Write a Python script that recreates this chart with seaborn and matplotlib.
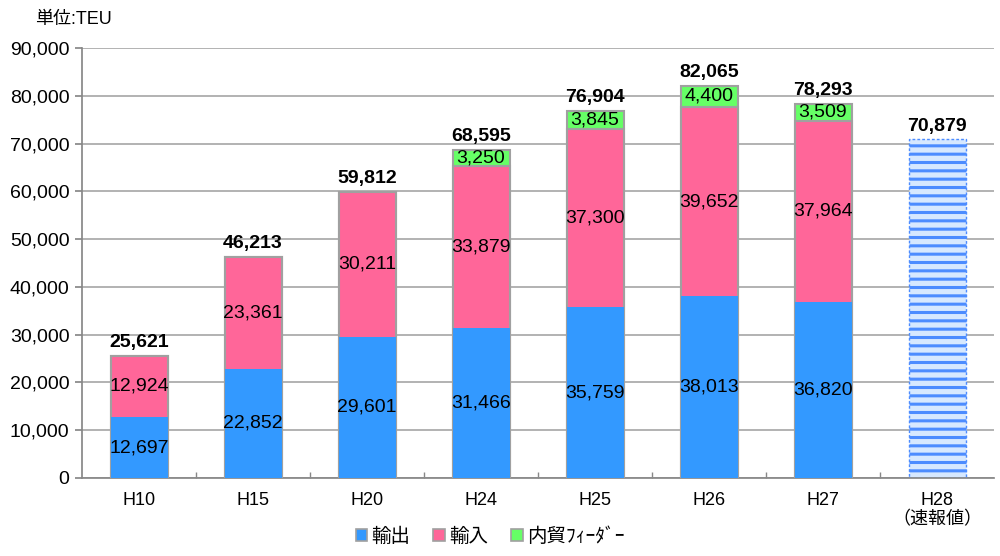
import numpy as np
import pandas as pd
import matplotlib
matplotlib.use("Agg")
import matplotlib.pyplot as plt
import seaborn as sns

years = ["H10", "H15", "H20", "H24", "H25", "H26", "H27", "H28"]
tick_labels = ["H10", "H15", "H20", "H24", "H25", "H26", "H27", "H28\n（速報値）"]
export = [12697, 22852, 29601, 31466, 35759, 38013, 36820, np.nan]
imports = [12924, 23361, 30211, 33879, 37300, 39652, 37964, np.nan]
feeder = [np.nan, np.nan, np.nan, 3250, 3845, 4400, 3509, np.nan]
totals = [25621, 46213, 59812, 68595, 76904, 82065, 78293, 70879]

BLUE = "#3399FF"
PINK = "#FF6699"
GREEN = "#66FF66"
EDGE = "#A0A0A0"


def fmt(v):
    return f"{v:,.0f}"


def main():
    sns.set_theme(style="white")
    plt.rcParams["font.family"] = ["Liberation Sans", "Noto Sans CJK JP", "DejaVu Sans"]
    plt.rcParams["text.color"] = "black"
    plt.rcParams["xtick.color"] = "black"
    plt.rcParams["ytick.color"] = "black"
    plt.rcParams["hatch.linewidth"] = 2.2

    df = pd.DataFrame({"year": years, "export": export, "import": imports,
                       "feeder": feeder, "total": totals})
    df["ei"] = df["export"] + df["import"]

    fig = plt.figure(figsize=(10, 5.56), dpi=100)
    ax = fig.add_axes([0.082, 0.1403, 0.912, 0.7734])

    # stacked bars drawn as cumulative layers, back to front
    sns.barplot(data=df, x="year", y="total", color=GREEN, width=0.5, saturation=1,
                edgecolor=EDGE, linewidth=1.5, ax=ax, zorder=2)
    sns.barplot(data=df, x="year", y="ei", color=PINK, width=0.5, saturation=1,
                edgecolor=EDGE, linewidth=1.5, ax=ax, zorder=3)
    sns.barplot(data=df, x="year", y="export", color=BLUE, width=0.5, saturation=1,
                edgecolor="none", linewidth=0, ax=ax, zorder=4)

    # H28: preliminary value, hatched
    last = ax.patches[len(years) - 1]
    last.set_facecolor("#D6E8FF")
    last.set_edgecolor("#4C8CFF")
    last.set_hatch("--")
    last.set_linestyle((0, (2, 1.5)))
    last.set_linewidth(1.0)

    ax.set_ylim(0, 90000)
    ax.set_xlim(-0.5, len(years) - 0.5)
    ax.set_yticks(range(0, 90001, 10000))
    ax.set_yticklabels([fmt(v) for v in range(0, 90001, 10000)], fontsize=14)
    ax.set_xticks(range(len(years)))
    ax.set_xticklabels(tick_labels, fontsize=13)
    ax.set_xticks(np.arange(0.5, len(years) - 1, 1), minor=True)
    ax.set_xlabel("")
    ax.set_ylabel("")
    ax.yaxis.grid(True, color="#A6A6A6", linewidth=1.2, zorder=0)
    ax.set_axisbelow(True)
    for s in ["top", "right"]:
        ax.spines[s].set_visible(False)
    ax.spines["left"].set_color("#888888")
    ax.spines["bottom"].set_color("#888888")
    ax.tick_params(axis="y", length=5, color="#888888", direction="out", left=True, pad=4)
    ax.tick_params(axis="x", which="major", length=0, pad=10)
    ax.tick_params(axis="x", which="minor", length=4, color="#888888", direction="in", bottom=True)

    # value labels
    for i in range(len(years)):
        e, im, fd, t = export[i], imports[i], feeder[i], totals[i]
        if not np.isnan(e):
            ax.text(i, e / 2, fmt(e), ha="center", va="center", fontsize=14, zorder=6)
            ax.text(i, e + im / 2, fmt(im), ha="center", va="center", fontsize=14, zorder=6)
        if not np.isnan(fd):
            ax.text(i, e + im + fd / 2, fmt(fd), ha="center", va="center", fontsize=14, zorder=6)
        ax.text(i, t + 1000, fmt(t), ha="center", va="bottom", fontsize=14,
                fontweight="bold", zorder=6)

    fig.text(0.035, 0.965, "単位:TEU", fontsize=13, ha="left", va="center")

    handles = [plt.Rectangle((0, 0), 1, 1, facecolor=c, edgecolor=EDGE, linewidth=1.2)
               for c in [BLUE, PINK, GREEN]]
    fig.legend(handles, ["輸出", "輸入", "内貿ﾌｨｰﾀﾞｰ"], loc="center", ncol=3,
               bbox_to_anchor=(0.49, 0.035), frameon=False, fontsize=14,
               handlelength=0.6, handleheight=0.6, handletextpad=0.2, columnspacing=1.2)

    fig.savefig("out.png", dpi=100)


if __name__ == "__main__":
    main()
